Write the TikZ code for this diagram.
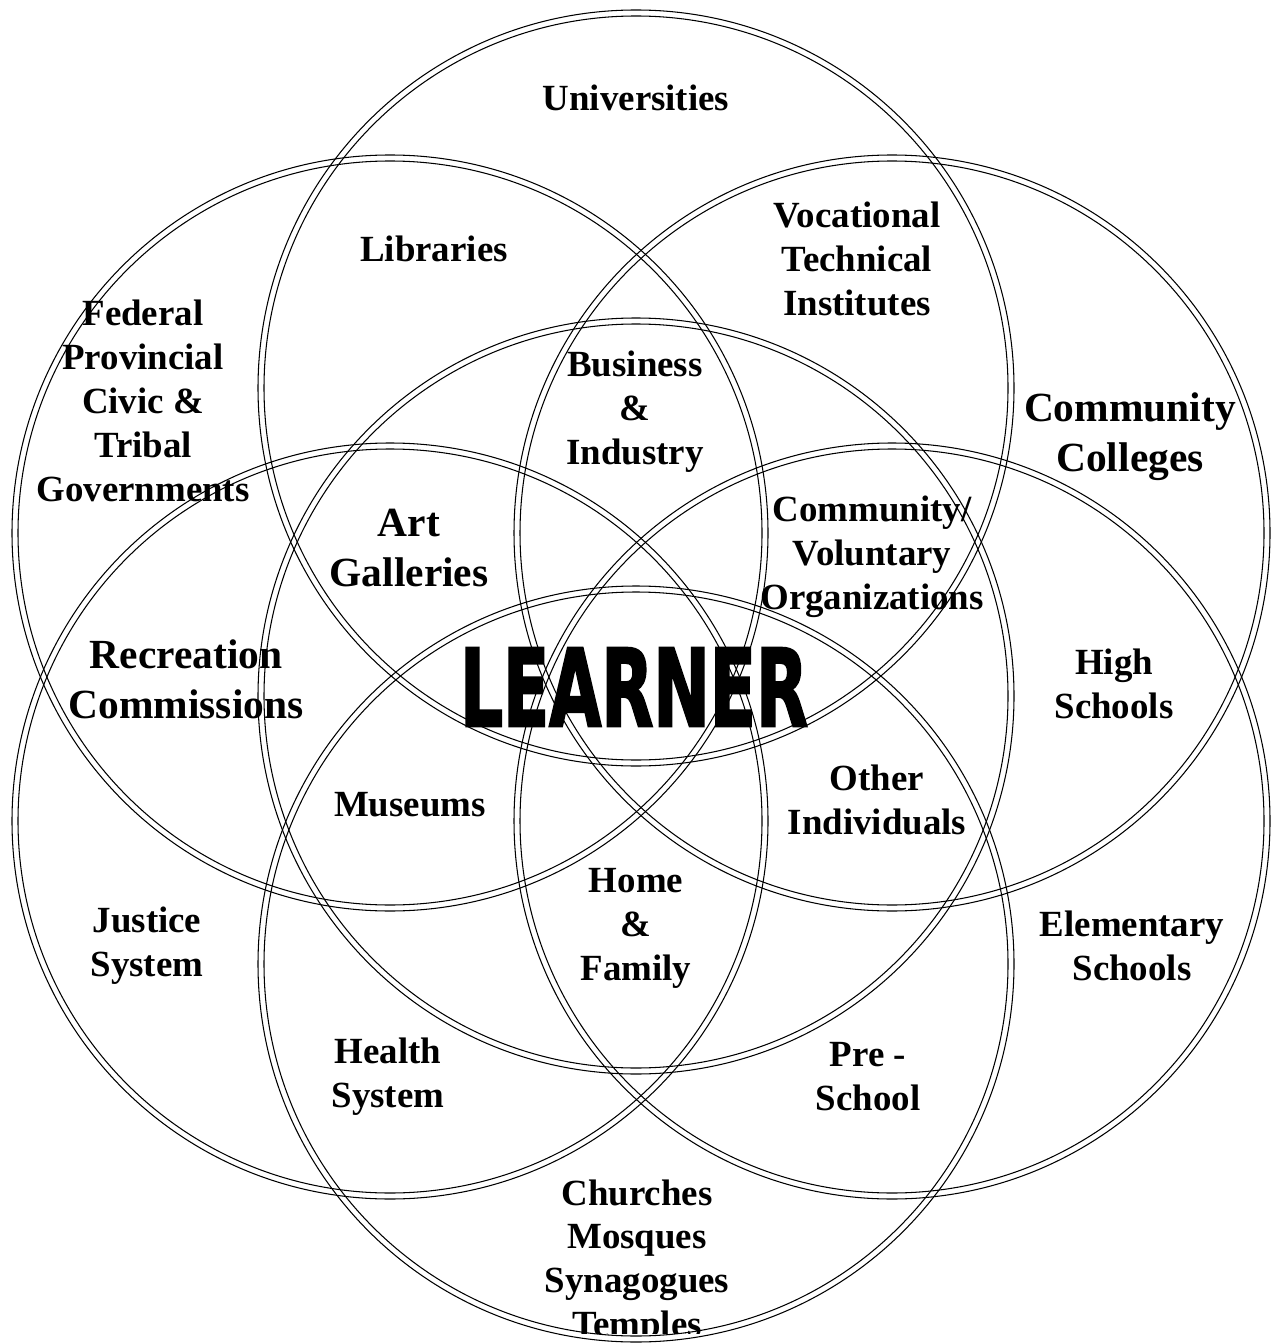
\documentclass[tikz,border=0pt]{standalone}
\usepackage{fontspec}
\usepackage{graphicx}
\setmainfont{Liberation Serif}
\newfontfamily\bannerfont{DejaVu Sans}[BoldFeatures={FakeBold=2.5}]
\usetikzlibrary{positioning}

\begin{document}
\begin{tikzpicture}[x=0.02cm,y=-0.02cm,
  ring/.style={line width=0.6pt},
  place/.style={font=\fontsize{21}{25}\selectfont\bfseries,align=center,inner sep=0pt},
  bigplace/.style={font=\fontsize{23.6}{28.5}\selectfont\bfseries,align=center,inner sep=0pt}]
\useasboundingbox (0,0) rectangle (1271,1344);
\clip (0,0) rectangle (1271,1344);
% seven overlapping rings, each drawn as two thin circles
\coordinate (ctop) at (636,388);
\coordinate (cupleft) at (390,533);
\coordinate (cupright) at (892,533);
\coordinate (cmid) at (636,696);
\coordinate (clowleft) at (390,821);
\coordinate (clowright) at (892,821);
\coordinate (cbottom) at (636,964);
\foreach \c in {ctop,cupleft,cupright,cmid,clowleft,clowright,cbottom}{
  \draw[ring] (\c) circle[radius=372];
  \draw[ring] (\c) circle[radius=378];
}
% labels
\node[place] (univ) at (636,98) {Universities};
\node[place] (libr) at (434,249) {Libraries};
\node[place] (voc) at (857,259) {Vocational\\Technical\\Institutes};
\node[place] (gov) at (143,401) {Federal\\Provincial\\Civic \&\\Tribal\\Governments};
\node[place] (bus) at (635,412) {Business\\\&\\Industry};
\node[bigplace] (coll) at (1130,437) {Community\\Colleges};
\node[bigplace] (art) at (409,548) {Art\\Galleries};
\node[place] (vol) at (872,557) {Community/\\Voluntary\\Organizations};
\node[bigplace] (rec) at (186,679) {Recreation\\Commissions};
\node[inner sep=0pt] (learner) at (634,687)
  {\resizebox{6.96cm}{1.56cm}{\bannerfont\bfseries LEARNER}};
\node[place] (high) at (1114,684) {High\\Schools};
\node[place] (mus) at (410,805) {Museums};
\node[place] (other) at (877,800) {Other\\Individuals};
\node[place] (home) at (636,928) {Home\\\&\\Family};
\node[place] (just) at (147,946) {Justice\\System};
\node[place] (elem) at (1132,946) {Elementary\\Schools};
\node[place] (health) at (388,1077) {Health\\System};
\node[place] (pre) at (868,1077) {Pre -\\School};
% last line runs off the bottom of its box
\begin{scope}
  \clip (0,0) rectangle (1271,1333);
  \node[place] (church) at (637,1262) {Churches\\Mosques\\Synagogues\\Temples};
\end{scope}
\end{tikzpicture}
\end{document}
